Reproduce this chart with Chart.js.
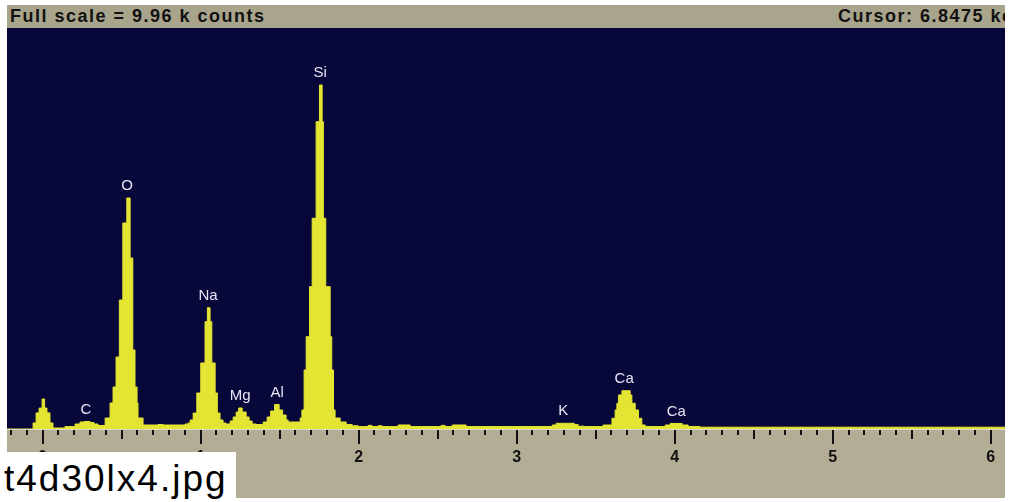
<!DOCTYPE html>
<html>
<head>
<meta charset="utf-8">
<script src="https://cdn.jsdelivr.net/npm/chart.js@4.4.1/dist/chart.umd.min.js"></script>
<style>
  body { margin: 0; background: #fff; }
  #wrap { position: relative; width: 1011px; height: 502px; overflow: hidden; background: #fff; }
  #spectrum { position: absolute; left: 0; top: 0; }
  #topbar {
    position: absolute; left: 7px; top: 5px; width: 998px; height: 23px; overflow: hidden;
    background: #a9a48c; color: #111;
    font: bold 18px "Liberation Sans", Arial, sans-serif; letter-spacing: 1.5px; line-height: 23px;
  }
  #fullscale { position: absolute; left: 3px; top: 0; white-space: nowrap; }
  #cursor { position: absolute; left: 831px; top: 0; white-space: nowrap; }
  #fname {
    position: absolute; left: 0; top: 452px; width: 236px; height: 50px; background: #fff; color: #000;
    font: 37px "Liberation Sans", Arial, sans-serif; letter-spacing: 2px; line-height: 40px;
  }
  #fname span { position: absolute; left: 4px; top: 7px; white-space: nowrap; }
</style>
</head>
<body>
<div id="wrap">
  <canvas id="spectrum" width="1011" height="502"></canvas>
  <div id="topbar">
    <span id="fullscale">Full scale = 9.96 k counts</span>
    <span id="cursor">Cursor: 6.8475 keV</span>
  </div>
  <div id="fname"><span>t4d30lx4.jpg</span></div>
</div>
<script>
// Espectro EDS: cada ponto vale do seu keV até o próximo (degraus)
const energiaKeV = [
  -0.225, -0.060, -0.041, -0.022, -0.003, 0.013, 0.028, 0.047, 0.066, 0.142,
  0.206, 0.237, 0.263, 0.301, 0.326, 0.351,
  0.396, 0.427, 0.446, 0.465, 0.486, 0.508, 0.533, 0.554, 0.571, 0.585, 0.598, 0.604, 0.636,
  0.731, 0.763, 0.902, 0.921,
  0.934, 0.953, 0.976, 1.001, 1.028, 1.043, 1.060, 1.071, 1.092, 1.106, 1.123, 1.142, 1.161,
  1.187, 1.206, 1.225, 1.241, 1.263, 1.288, 1.307, 1.326, 1.351,
  1.396, 1.421, 1.443, 1.468, 1.497, 1.519, 1.541, 1.554,
  1.630, 1.641, 1.655, 1.668, 1.689, 1.706, 1.731, 1.752, 1.769, 1.777, 1.792, 1.820, 1.830, 1.841, 1.851, 1.883, 1.921, 1.959, 1.997,
  2.060, 2.085, 2.123, 2.149, 2.250, 2.326, 2.522, 2.547, 2.592, 2.680,
  3.225, 3.250, 3.364, 3.389, 3.427,
  3.547, 3.603, 3.623, 3.634, 3.644, 3.666, 3.718, 3.729, 3.750, 3.771, 3.792, 3.813,
  3.940, 3.972, 4.047, 4.085, 4.161, 6.09
];
const contagens = [
  0, 150, 400, 520, 745, 520, 400, 150, 25, 60,
  124, 174, 186, 161, 124, 87,
  273, 646, 1043, 1788, 3204, 5117, 5738, 4248, 1962, 1043, 646, 273, 99,
  112, 99, 124, 149,
  224, 397, 894, 1640, 2665, 3013, 2665, 1640, 894, 397, 224, 149, 124,
  199, 298, 422, 522, 422, 298, 199, 124, 112,
  174, 298, 447, 609, 472, 348, 224, 174,
  273, 472, 1466, 2293, 3535, 5234, 7633, 8545, 7633, 5234, 3535, 2293, 1466, 472, 273, 174, 112, 80, 60,
  90, 60, 80, 60, 100, 60, 90, 60, 100, 60,
  100, 142, 110, 70, 60,
  99, 266, 472, 638, 845, 951, 845, 638, 472, 266, 99, 60,
  99, 137, 99, 60, 45, 40
];

// Identificação dos picos
const elementos = ["C", "O", "Na", "Mg", "Al", "Si", "K", "Ca", "Ca"];
const picoKeV = [0.275, 0.535, 1.047, 1.25, 1.484, 1.756, 3.294, 3.68, 4.01];
const picoContagens = [186, 5738, 3013, 522, 609, 8545, 142, 951, 137];

const fundoEscala = 9960; // Full scale = 9.96 k counts

const decoracao = {
  id: "decoracao",
  beforeDraw(chart) {
    const { ctx, chartArea: a } = chart;
    ctx.save();
    ctx.fillStyle = "#b3ad95";
    ctx.fillRect(a.left, a.bottom, a.right - a.left, 498 - a.bottom);
    ctx.fillStyle = "#07073a";
    ctx.fillRect(a.left, a.top, a.right - a.left, a.bottom - a.top);
    ctx.restore();
  },
  afterDraw(chart) {
    const { ctx, chartArea: a } = chart;
    const xs = chart.scales.x;
    const ys = chart.scales.y;
    ctx.save();
    ctx.fillStyle = "#dcd8ca";
    ctx.fillRect(a.left, a.bottom, a.right - a.left, 1);
    ctx.fillStyle = "#111";
    xs.ticks.forEach((t) => {
      const decimos = Math.round(t.value * 10);
      if (Math.abs(t.value * 10 - decimos) > 1e-6) return;
      const len = decimos % 10 === 0 ? 14 : decimos % 5 === 0 ? 9 : 5;
      const px = Math.round(xs.getPixelForValue(t.value));
      ctx.fillRect(px - 1, a.bottom + 1, 2, len);
    });
    // rótulos dos elementos
    ctx.fillStyle = "#e6e6f4";
    ctx.font = '15px "Liberation Sans", Arial, sans-serif';
    ctx.textAlign = "center";
    ctx.textBaseline = "middle";
    elementos.forEach((nome, i) => {
      ctx.fillText(nome, xs.getPixelForValue(picoKeV[i]), ys.getPixelForValue(picoContagens[i]) - 12);
    });
    ctx.restore();
  },
};

const ctx = document.getElementById("spectrum").getContext("2d");
new Chart(ctx, {
  type: "line",
  data: {
    datasets: [
      {
        data: energiaKeV.map((e, i) => ({ x: e, y: contagens[i] })),
        stepped: "before",
        fill: "origin",
        borderColor: "#e4e432",
        backgroundColor: "#e4e432",
        borderWidth: 1,
        pointRadius: 0,
      },
    ],
  },
  options: {
    responsive: false,
    animation: false,
    layout: { padding: { left: 7, right: 6, top: 28, bottom: 0 } },
    plugins: { legend: { display: false }, tooltip: { enabled: false } },
    scales: {
      x: {
        type: "linear",
        min: -0.225,
        max: 6.09,
        grid: { display: false },
        border: { display: false },
        ticks: {
          stepSize: 0.1,
          autoSkip: false,
          maxRotation: 0,
          includeBounds: false,
          maxTicksLimit: 100,
          padding: 11,
          color: "#111",
          font: { family: "Liberation Sans", weight: "bold", size: 16 },
          callback: (v) => (Math.abs(v - Math.round(v)) < 1e-6 ? String(Math.round(v)) : ""),
        },
        afterFit: (s) => {
          s.height = 73;
          s.paddingLeft = 0;
          s.paddingRight = 0;
        },
      },
      y: { display: false, min: 0, max: fundoEscala },
    },
  },
  plugins: [decoracao],
});
</script>
</body>
</html>
